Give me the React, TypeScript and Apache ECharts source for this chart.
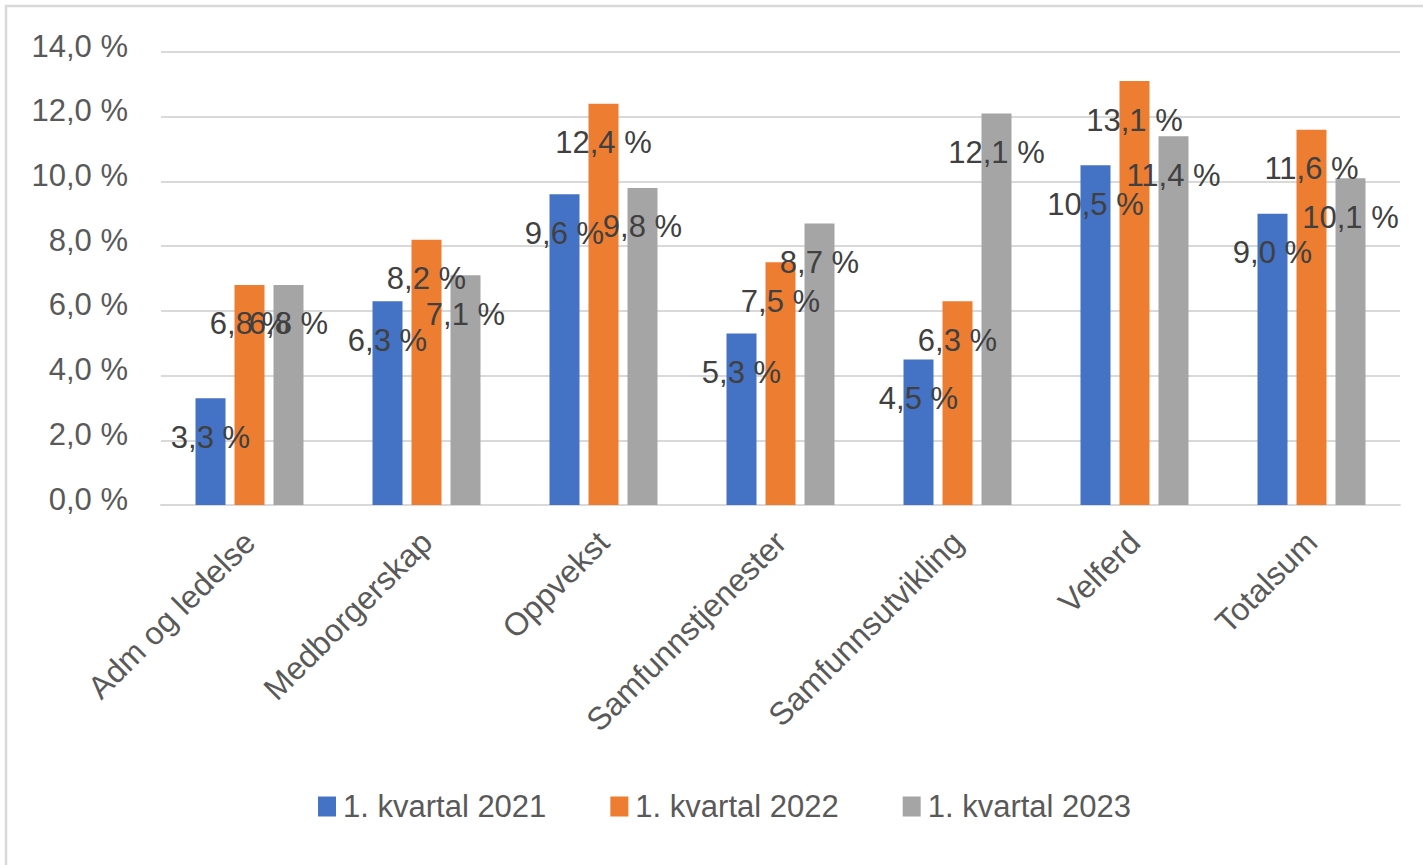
import React, { useEffect, useRef } from "react";
import * as echarts from "echarts";

const categories = [
  "Adm og ledelse",
  "Medborgerskap",
  "Oppvekst",
  "Samfunnstjenester",
  "Samfunnsutvikling",
  "Velferd",
  "Totalsum",
];
const seriesNames = ["1. kvartal 2021", "1. kvartal 2022", "1. kvartal 2023"];
const q2021 = [3.3, 6.3, 9.6, 5.3, 4.5, 10.5, 9.0];
const q2022 = [6.8, 8.2, 12.4, 7.5, 6.3, 13.1, 11.6];
const q2023 = [6.8, 7.1, 9.8, 8.7, 12.1, 11.4, 10.1];
const colors = ["#4472C4", "#ED7D31", "#A5A5A5"];

const FONT = "Liberation Sans";
const fmt = (v: number) => v.toFixed(1).replace(".", ",") + " %";

export default function App() {
  const ref = useRef<HTMLDivElement>(null);
  useEffect(() => {
    document.body.style.margin = "0";
    const chart = echarts.init(ref.current!, null, { renderer: "svg" });
    const data = [q2021, q2022, q2023];
    chart.setOption({
      animation: false,
      backgroundColor: "#ffffff",
      textStyle: { fontFamily: FONT },
      graphic: [
        {
          type: "rect",
          shape: { x: 6, y: 6, width: 1440, height: 880 },
          style: { fill: "none", stroke: "#D9D9D9", lineWidth: 2.5 },
          silent: true,
        },
      ],
      grid: { left: 161, right: 23, top: 52, bottom: 360 },
      legend: {
        bottom: 38,
        left: 313,
        itemWidth: 18,
        itemHeight: 20,
        itemGap: 64,
        icon: "rect",
        textStyle: { fontSize: 31, color: "#595959", fontFamily: FONT, padding: [0, 0, 0, 2] },
        data: seriesNames,
      },
      xAxis: {
        type: "category",
        data: categories,
        axisLine: { lineStyle: { color: "#D9D9D9", width: 2 } },
        axisTick: { show: false },
        axisLabel: {
          rotate: 45,
          interval: 0,
          fontSize: 32,
          color: "#595959",
          fontFamily: FONT,
          margin: 32,
        },
      },
      yAxis: {
        type: "value",
        min: 0,
        max: 14,
        interval: 2,
        axisLine: { show: false },
        axisTick: { show: false },
        splitLine: { lineStyle: { color: "#D9D9D9", width: 2 } },
        axisLabel: {
          formatter: (v: number) => fmt(v),
          fontSize: 31,
          color: "#595959",
          fontFamily: FONT,
          margin: 33,
          verticalAlign: "bottom",
          lineHeight: 12,
        },
      },
      series: seriesNames.map((name, i) => ({
        name,
        type: "bar",
        data: data[i],
        barWidth: 30,
        barGap: "30%",
        itemStyle: { color: colors[i] },
        label: {
          show: true,
          position: ["50%", 39],
          align: "center",
          verticalAlign: "middle",
          formatter: (p: any) => fmt(p.value),
          fontSize: 31,
          color: "#404040",
          fontFamily: FONT,
        },
      })),
    });
    return () => chart.dispose();
  }, []);
  return <div ref={ref} style={{ width: 1423, height: 865 }} />;
}
